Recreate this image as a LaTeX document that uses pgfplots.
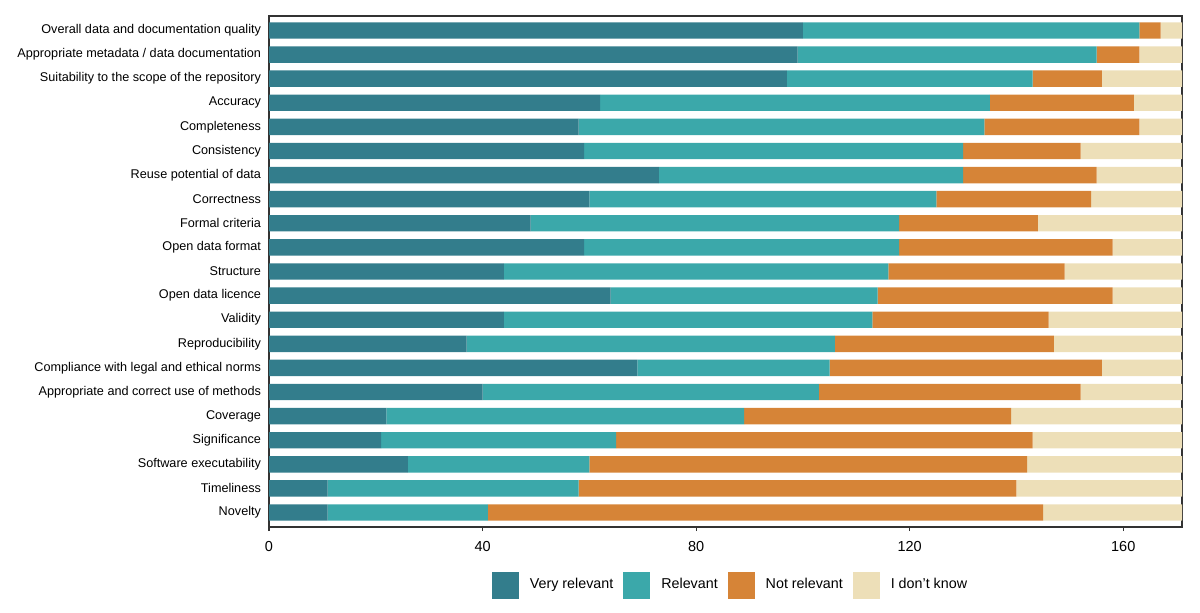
\documentclass[border=0pt]{standalone}
\usepackage{fontspec}
\setmainfont{Liberation Sans}
\usepackage{pgfplots}
\usepackage{pgfplotstable}
\pgfplotsset{compat=1.18}
\definecolor{cVR}{HTML}{337D8C}
\definecolor{cR}{HTML}{3BA8AA}
\definecolor{cNR}{HTML}{D68437}
\definecolor{cIDK}{HTML}{EDDFB8}
\definecolor{axgray}{HTML}{333333}
\pgfplotstableread{
vr r nr idk
100 63 4 4
99 56 8 8
97 46 13 15
62 73 27 9
58 76 29 8
59 71 22 19
73 57 25 16
60 65 29 17
49 69 26 27
59 59 40 13
44 72 33 22
64 50 44 13
44 69 33 25
37 69 41 24
69 36 51 15
40 63 49 19
22 67 50 32
21 44 78 28
26 34 82 29
11 47 82 31
11 30 104 26
}\data
\begin{document}
\begin{tikzpicture}
\useasboundingbox (0,0) rectangle (600bp,306.5bp);
\begin{axis}[
  at={(134.5bp,43bp)}, anchor=south west,
  scale only axis, width=456.5bp, height=255.5bp,
  xbar stacked, bar width=0.68,
  xmin=0, xmax=171, ymin=-0.6, ymax=20.6,
  y dir=reverse,
  axis line style={axgray, line width=0.6bp},
  xtick={0,40,80,120,160},
  xtick pos=bottom,
  tick align=outside,
  xtick style={axgray, line width=0.6bp},
  major tick length=2bp,
  ytick={0,...,20},
  ytick style={draw=none},
  yticklabels={Overall data and documentation quality, Appropriate metadata / data documentation, Suitability to the scope of the repository, Accuracy, Completeness, Consistency, Reuse potential of data, Correctness, Formal criteria, Open data format, Structure, Open data licence, Validity, Reproducibility, Compliance with legal and ethical norms, Appropriate and correct use of methods, Coverage, Significance, Software executability, Timeliness, Novelty},
  yticklabel style={font=\fontsize{6.33bp}{7.5bp}\selectfont, xshift=1.5bp},
  xticklabel style={font=\fontsize{7.25bp}{8bp}\selectfont, yshift=-1.5bp},
  /pgf/number format/assume math mode=true,
  legend style={at={(0.5,-0.079)}, anchor=north, draw=none, fill=none, xshift=3bp,
    font=\fontsize{7.15bp}{8.5bp}\selectfont,
    /tikz/every odd column/.append style={column sep=3.5bp},
    /tikz/every even column/.append style={column sep=3bp}},
  legend columns=4,
  legend cell align=left,
  legend image code/.code={\fill[#1] (0bp,-6.75bp) rectangle (13.5bp,6.75bp);},
]
\addplot[fill=cVR, draw=none] table[x=vr, y expr=\coordindex] {\data};
\addlegendentry{Very relevant}
\addplot[fill=cR, draw=none] table[x=r, y expr=\coordindex] {\data};
\addlegendentry{Relevant}
\addplot[fill=cNR, draw=none] table[x=nr, y expr=\coordindex] {\data};
\addlegendentry{Not relevant}
\addplot[fill=cIDK, draw=none] table[x=idk, y expr=\coordindex] {\data};
\addlegendentry{I don't know}
\end{axis}
\end{tikzpicture}
\end{document}
